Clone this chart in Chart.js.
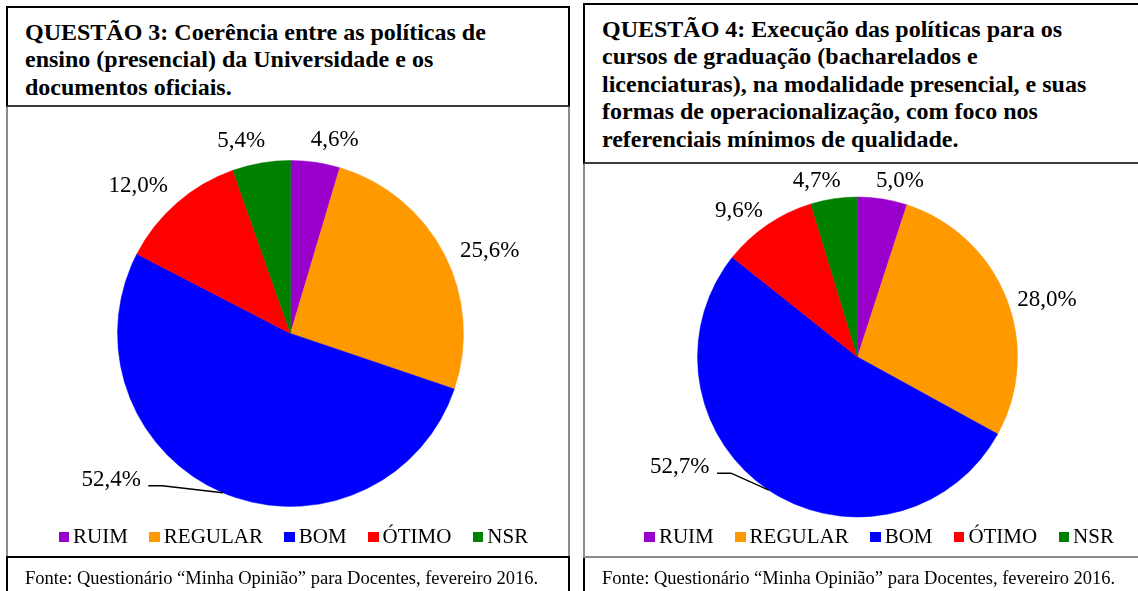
<!DOCTYPE html>
<html lang="pt-BR">
<head>
<meta charset="utf-8">
<title>Questões 3 e 4 - Minha Opinião</title>
<script src="https://cdn.jsdelivr.net/npm/chart.js@4.4.1/dist/chart.umd.min.js"></script>
<style>
  html, body { margin: 0; padding: 0; background: #fff; }
  body { position: relative; width: 1138px; height: 591px; overflow: hidden;
         font-family: 'Liberation Serif', 'Times New Roman', serif; color: #000; }
  .box { position: absolute; box-sizing: border-box; background: #fff; }
  .chartbox { border: 2px solid #8c8c8c; }
  .titlebox { border: 2px solid #000; border-bottom-color: #3c3c3c; padding: 10.5px 0 0 17px;
              font-weight: bold; font-size: 24px; line-height: 27.6px; white-space: nowrap; }
  .footbox { border: 2px solid #000; }
  .foot { position: absolute; font-size: 18.5px; line-height: 20px; white-space: nowrap; }
  canvas { position: absolute; }
  .legend { position: absolute; display: flex; align-items: center; font-size: 21px; line-height: 21px; white-space: nowrap; }
  .legend .item { display: flex; align-items: center; margin-right: 21.3px; }
  .legend .sw { width: 10.7px; height: 10.7px; margin-right: 3.9px; }
</style>
</head>
<body>

<!-- Questão 3 -->
<div class="box chartbox" style="left:6px;top:105px;width:564px;height:453px;"></div>
<canvas id="q3Chart" width="560" height="449" style="left:8px;top:107px;"></canvas>
<div class="legend" id="q3Legend" style="left:58.5px;top:526.4px;"></div>
<div class="box titlebox" style="left:6px;top:6px;width:564px;height:101px;">
  QUESTÃO 3: Coerência entre as políticas de<br>ensino (presencial) da Universidade e os<br>documentos oficiais.
</div>
<div class="box footbox" style="left:6px;top:556px;width:564px;height:60px;"></div>
<div class="foot" style="left:25px;top:568px;">Fonte: Questionário “Minha Opinião” para Docentes, fevereiro 2016.</div>

<!-- Questão 4 -->
<div class="box chartbox" style="left:583px;top:162px;width:580px;height:396px;"></div>
<canvas id="q4Chart" width="553" height="392" style="left:585px;top:164px;"></canvas>
<div class="legend" id="q4Legend" style="left:644.3px;top:526.4px;"></div>
<div class="box titlebox" style="left:583px;top:3px;width:580px;height:161px;">
  QUESTÃO 4: Execução das políticas para os<br>cursos de graduação (bacharelados e<br>licenciaturas), na modalidade presencial, e suas<br>formas de operacionalização, com foco nos<br>referenciais mínimos de qualidade.
</div>
<div class="box footbox" style="left:583px;top:558px;width:580px;height:60px;border-top:none;"></div>
<div class="foot" style="left:602px;top:568px;">Fonte: Questionário “Minha Opinião” para Docentes, fevereiro 2016.</div>

<script>
// Categorias e valores (%)
const categories = ['RUIM', 'REGULAR', 'BOM', 'ÓTIMO', 'NSR'];
const q3Values = [4.6, 25.6, 52.4, 12.0, 5.4];
const q4Values = [5.0, 28.0, 52.7, 9.6, 4.7];
const sliceColors = ['#9900CC', '#FF9900', '#0000FF', '#FF0000', '#008000'];

const SERIF = "'Liberation Serif', 'Times New Roman', serif";
const fmtPct = v => v.toFixed(1).replace('.', ',') + '%';

// Percent labels outside the slices; one label may sit on a leader line
const pieLabels = {
  id: 'pieLabels',
  afterDatasetsDraw(chart, args, opts) {
    const { ctx } = chart;
    const meta = chart.getDatasetMeta(0);
    const values = chart.data.datasets[0].data;
    ctx.save();
    ctx.font = `${opts.size}px ${SERIF}`;
    ctx.fillStyle = '#000';
    ctx.textAlign = 'center';
    ctx.textBaseline = 'alphabetic';
    const lift = opts.size * 0.338; // half the digit height

    meta.data.forEach((arc, i) => {
      const { x, y, startAngle, endAngle, outerRadius } =
        arc.getProps(['x', 'y', 'startAngle', 'endAngle', 'outerRadius'], true);
      const mid = (startAngle + endAngle) / 2;
      const text = fmtPct(values[i]);
      const w = ctx.measureText(text).width;

      if (opts.callout && opts.callout.index === i) {
        const ax = x + Math.cos(mid) * outerRadius;
        const ay = y + Math.sin(mid) * outerRadius;
        const lx = ax + opts.callout.dx;
        const ly = ay + opts.callout.dy;
        ctx.fillText(text, lx, ly + lift);
        const sx = lx + w / 2 + 7.5, sy = ly + 8;
        ctx.beginPath();
        ctx.moveTo(sx, sy);
        ctx.lineTo(sx + 14, sy);
        ctx.lineTo(ax, ay);
        ctx.strokeStyle = '#000';
        ctx.lineWidth = 1.5;
        ctx.stroke();
        return;
      }

      const side = Math.cos(mid) >= 0 ? 1 : -1;
      const a = mid + side * opts.spread * Math.PI / 180;
      const ux = Math.cos(a), uy = Math.sin(a);
      const d = outerRadius + opts.gap + Math.abs(ux) * w / 2 + Math.abs(uy) * opts.textHeight / 2;
      ctx.fillText(text, x + ux * d, y + uy * d + lift);
    });
    ctx.restore();
  }
};

function buildLegend(el) {
  categories.forEach((name, i) => {
    const item = document.createElement('div');
    item.className = 'item';
    item.innerHTML = `<span class="sw" style="background:${sliceColors[i]}"></span><span>${name}</span>`;
    el.appendChild(item);
  });
}

function makePie(canvasId, values, radius, padding, labelOpts) {
  return new Chart(document.getElementById(canvasId), {
    type: 'pie',
    data: {
      labels: categories,
      datasets: [{
        data: values,
        backgroundColor: sliceColors,
        borderColor: sliceColors,
        borderWidth: 0.5,
        radius: radius
      }]
    },
    options: {
      responsive: false,
      animation: false,
      devicePixelRatio: 1,
      layout: { padding: padding },
      plugins: {
        legend: { display: false },
        tooltip: { enabled: false },
        pieLabels: labelOpts
      }
    },
    plugins: [pieLabels]
  });
}

makePie('q3Chart', q3Values, 173, { left: 5, right: 0, top: 4, bottom: 0 },
  { size: 23, gap: 12, spread: 4.5, textHeight: 20, callout: { index: 2, dx: -111.7, dy: -14.9 } });
makePie('q4Chart', q4Values, 160, { left: 0, right: 8, top: 0, bottom: 6 },
  { size: 23, gap: 7, spread: 4.5, textHeight: 20, callout: { index: 2, dx: -89, dy: -25 } });

buildLegend(document.getElementById('q3Legend'));
buildLegend(document.getElementById('q4Legend'));
</script>
</body>
</html>
